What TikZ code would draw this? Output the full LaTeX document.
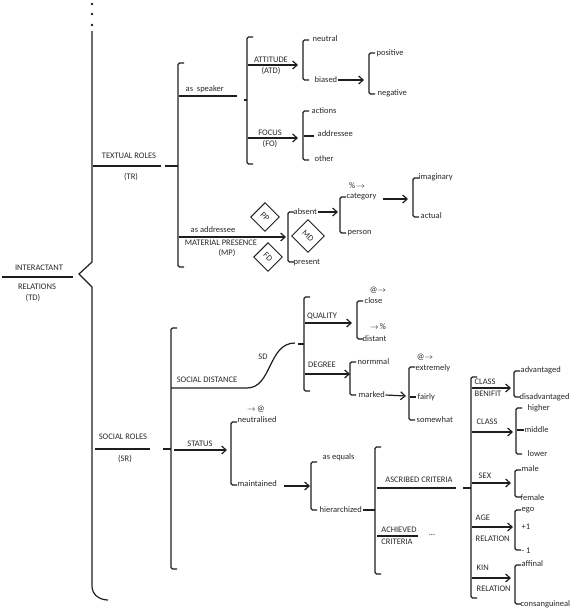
\documentclass[tikz,border=0pt]{standalone}
\usepackage{fontspec}
\setmainfont{Carlito}
\usepackage{tikz}
\usetikzlibrary{arrows.meta, positioning, calc}
\definecolor{inkgray}{RGB}{30, 30, 30}
\definecolor{textgray}{RGB}{40, 40, 40}

\tikzset{
  lbl/.style={font=\fontsize{8.5}{9}\selectfont, inner sep=0.5pt, text=textgray},
  feat/.style={lbl, anchor=west},
  sysline/.style={line width=1.2pt, draw=inkgray},
  choose/.style={sysline, -{Straight Barb[length=4.5pt, width=8pt, line width=1.2pt]}},
  gate/.style={draw=inkgray, line width=0.9pt, rotate=-45, minimum size=20pt, inner sep=0pt, lbl}
}
% bracket: name, x, top, bottom
\newcommand{\sysbrack}[4]{%
  \draw[sysline, rounded corners=1.5pt] (#2+6,#3) -- (#2,#3) -- (#2,#4) -- (#2+6,#4);
  \coordinate (#1) at (#2,{(#3+#4)/2});
}

\begin{document}
\begin{tikzpicture}[x=1pt, y=-1pt]
    \useasboundingbox (0,0) rectangle (576,608);
    % main brace
    \foreach \yy in {4,14,25} \fill[inkgray] (92,\yy) circle (1.4pt);
    \draw[sysline] (92,31) -- (92,262) -- (79,274) -- (92,287) -- (92,586)
        .. controls (92,595) and (100,600) .. (108,600);
    \draw[sysline] (2,277) -- (73,277);
    \node[lbl] (td1) at (39,268) {INTERACTANT};
    \node[lbl] (td2) at (37,287) {RELATIONS};
    \node[lbl] (td3) at (33,298) {(TD)};

    % textual roles
    \draw[sysline] (93,166) -- (161,166);
    \node[lbl] (tr1) at (129,156) {TEXTUAL ROLES};
    \node[lbl] (tr2) at (131,177) {(TR)};
    \draw[sysline] (165,166) -- (178,166);
    \sysbrack{tr}{178}{63}{267}
    \draw[sysline] (179,96) -- (237,96);
    \node[feat] (spk) at (185,89) {as\ \ speaker};
    \sysbrack{spkb}{247}{37}{164}
    \draw[sysline] (244,100) -- (247,100);
    \draw[choose] (248,65) -- (298,65);
    \node[lbl] (atd1) at (271,60) {ATTITUDE};
    \node[lbl] (atd2) at (271,71) {(ATD)};
    \draw[choose] (248,138) -- (298,138);
    \node[lbl] (fo1) at (270,133) {FOCUS};
    \node[lbl] (fo2) at (270,144) {(FO)};

    \sysbrack{atd}{303}{40}{80}
    \node[feat] (neu) at (312,39) {neutral};
    \node[feat] (bia) at (314,80) {biased};
    \draw[choose] (bia.east) -- (364,80);
    \sysbrack{bias}{369}{53}{94}
    \node[feat] (pos) at (376,53) {positive};
    \node[feat] (neg) at (377,93) {negative};

    \sysbrack{fo}{303}{111}{160}
    \node[feat] (act) at (311,111) {actions};
    \draw[sysline] (304,136) -- (314,136);
    \node[feat] (adr) at (317,134) {addressee};
    \node[feat] (oth) at (314,159) {other};

    % material presence
    \draw[choose] (179,237) -- (286,237);
    \node[lbl] (mp0) at (213,230) {as addressee};
    \node[lbl] (mp1) at (221,243) {MATERIAL PRESENCE};
    \node[lbl] (mp2) at (227,253) {(MP)};
    \sysbrack{mp}{288}{212}{262}
    \node[feat] (abs) at (293,212) {absent};
    \node[feat] (pre) at (293,262) {present};
    \node[gate] (pp) at (265,217) {PP};
    \node[gate, minimum size=23pt] (md) at (308,236) {MD};
    \node[gate] (fd) at (268,257) {FD};
    \draw[choose] (abs.east) -- (338,212);
    \sysbrack{absb}{340}{197}{233}
    \node[lbl] (pct) at (357,186) {\%\,$\rightarrow$};
    \node[feat] (cat) at (346,197) {category};
    \node[feat] (per) at (347,233) {person};
    \draw[choose] (383,199) -- (408,199);
    \sysbrack{catb}{413}{178}{217}
    \node[feat] (ima) at (418,177) {imaginary};
    \node[feat] (actl) at (420,216) {actual};

    % social roles
    \draw[sysline] (95,449) -- (150,449);
    \node[lbl] (sr1) at (123,437) {SOCIAL ROLES};
    \node[lbl] (sr2) at (125,459) {(SR)};
    \draw[sysline] (163,449) -- (171,449);
    \sysbrack{sr}{171}{328}{569}

    % social distance
    \draw[sysline] (171,388) -- (247,388) .. controls (272,388) and (268,343) .. (295,343);
    \node[lbl] (sd1) at (207,380) {SOCIAL DISTANCE};
    \node[lbl] (sd2) at (263,357) {SD};
    \draw[sysline] (298,344) -- (304,344);
    \sysbrack{sd}{304}{297}{391}
    \draw[choose] (305,323) -- (352,323);
    \node[lbl] (qua) at (322,316) {QUALITY};
    \draw[choose] (305,374) -- (350,374);
    \node[lbl] (deg) at (322,365) {DEGREE};
    \sysbrack{qub}{357}{301}{339}
    \node[lbl] (at1) at (378,290) {@$\rightarrow$};
    \node[feat] (clo) at (364,301) {close};
    \node[lbl] (pc1) at (378,327) {$\rightarrow$\,\%};
    \node[feat] (dis) at (362,339) {distant};
    \sysbrack{deb}{350}{362}{395}
    \node[feat] (nor) at (357,362) {normmal};
    \node[feat] (mar) at (358,395) {marked};
    \draw[choose] (mar.east) -- (406,396);
    \sysbrack{mab}{409}{367}{420}
    \node[lbl] (at2) at (425,357) {@$\rightarrow$};
    \node[feat] (ext) at (415,368) {extremely};
    \draw[sysline] (410,397) -- (416,397);
    \node[feat] (fai) at (417,397) {fairly};
    \node[feat] (som) at (416,420) {somewhat};

    % status
    \draw[choose] (174,450) -- (227,450);
    \node[lbl] (sta) at (200,444) {STATUS};
    \sysbrack{stb}{231}{422}{485}
    \node[lbl] (at3) at (256,409) {$\rightarrow$\,@};
    \node[feat] (neut) at (237,420) {neutralised};
    \node[feat] (mai) at (237,484) {maintained};
    \draw[choose] (284,486) -- (310,486);
    \sysbrack{mab2}{311}{462}{510}
    \node[feat] (equ) at (322,457) {as equals};
    \node[feat] (hie) at (319,510) {hierarchized};
    \draw[sysline] (hie.east) -- (375,510);
    \sysbrack{hib}{375}{447}{574}
    \draw[sysline] (377,488) -- (456,488);
    \node[lbl] (asc) at (419,480) {ASCRIBED CRITERIA};
    \draw[sysline] (463,488) -- (471,488);
    \draw[sysline] (377,536) -- (418,536);
    \node[lbl] (ach1) at (399,530) {ACHIEVED};
    \node[lbl] (ach2) at (397,542) {CRITERIA};
    \node[lbl] (dots) at (432,535) {...};

    % ascribed criteria
    \sysbrack{ascb}{471}{377}{598}
    \draw[choose] (472,388) -- (511,388);
    \node[feat] (cb1) at (474,382) {CLASS};
    \node[feat] (cb2) at (474,394) {BENIFIT};
    \sysbrack{cbb}{514}{371}{397}
    \node[feat] (adv) at (520,370) {advantaged};
    \node[feat] (dadv) at (519,397) {disadvantaged};

    \draw[choose] (472,432) -- (513,432);
    \node[feat] (cls) at (476,422) {CLASS};
    \sysbrack{clb}{516}{408}{454}
    \node[feat] (hig) at (527,408) {higher};
    \draw[sysline] (517,430) -- (524,430);
    \node[feat] (mid) at (524,430) {middle};
    \node[feat] (low) at (527,454) {lower};

    \draw[choose] (472,483) -- (511,483);
    \node[feat] (sex) at (478,476) {SEX};
    \sysbrack{sxb}{515}{470}{497}
    \node[feat] (mal) at (521,469) {male};
    \node[feat] (fem) at (520,498) {female};

    \draw[choose] (472,527) -- (513,527);
    \node[feat] (age1) at (475,518) {AGE};
    \node[feat] (age2) at (475,539) {RELATION};
    \sysbrack{agb}{515}{510}{550}
    \node[feat] (ego) at (521,510) {ego};
    \node[feat] (pl1) at (521,527) {+1};
    \node[feat] (mi1) at (521,551) {- 1};

    \draw[choose] (472,578) -- (511,578);
    \node[feat] (kin1) at (476,568) {KIN};
    \node[feat] (kin2) at (476,589) {RELATION};
    \sysbrack{kib}{515}{565}{604}
    \node[feat] (aff) at (521,564) {affinal};
    \node[feat] (con) at (520,604) {consanguineal};
\end{tikzpicture}
\end{document}
